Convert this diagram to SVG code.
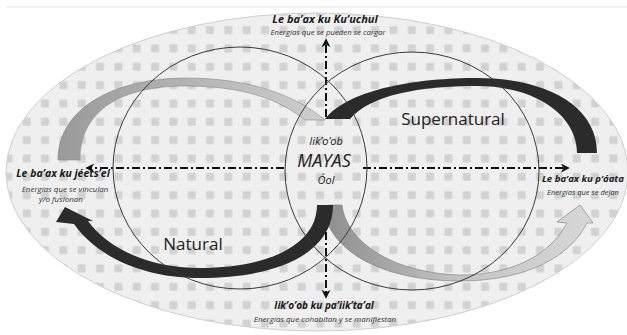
<svg xmlns="http://www.w3.org/2000/svg" width="627" height="335" viewBox="0 0 627 335">
  <defs>
    <pattern id="grid" x="17.5" y="2.5" width="18.333" height="18.333" patternUnits="userSpaceOnUse">
      <rect width="18.333" height="18.333" fill="#efefef"/>
      <rect x="5.2" y="5.2" width="8" height="8" rx="1.2" fill="#d2d2d2"/>
    </pattern>
    <filter id="soft" x="-5%" y="-5%" width="110%" height="110%">
      <feGaussianBlur stdDeviation="0.6"/>
    </filter>
    <linearGradient id="gLeft" gradientUnits="userSpaceOnUse" x1="60" y1="0" x2="325" y2="0">
      <stop offset="0" stop-color="#9a9a9a"/>
      <stop offset="1" stop-color="#cfcfcf"/>
    </linearGradient>
    <linearGradient id="gRight" gradientUnits="userSpaceOnUse" x1="325" y1="0" x2="595" y2="0">
      <stop offset="0" stop-color="#8e8e8e"/>
      <stop offset="0.5" stop-color="#c4c4c4"/>
      <stop offset="1" stop-color="#d8d8d8"/>
    </linearGradient>
    <marker id="ah" viewBox="0 0 10 10" refX="8" refY="5" markerWidth="4.5" markerHeight="4.5" orient="auto-start-reverse" markerUnits="strokeWidth">
      <path d="M0,0 L10,5 L0,10 L3,5 Z" fill="#111"/>
    </marker>
    <style>
      .circ { fill: none; stroke: #3a3a3a; stroke-width: 1; }
      .axis { fill: none; stroke: #111; stroke-width: 2; stroke-dasharray: 8 3 2 3; }
      .lbl { font-family: "Open Sans", "Noto Sans", sans-serif; font-style: italic; font-weight: bold; fill: #1a1a1a; text-anchor: middle; }
      .lbl.end { text-anchor: end; }
      .sub { font-family: "Open Sans", "Noto Sans", sans-serif; font-style: italic; fill: #333; text-anchor: middle; }
      .big { font-family: "Open Sans", "Noto Sans", sans-serif; fill: #222; text-anchor: middle; }
      .mid { font-family: "Open Sans", "Noto Sans", sans-serif; font-style: italic; fill: #222; text-anchor: middle; }
    </style>
  </defs>

  <rect width="627" height="335" fill="#ffffff"/>
  <line x1="6" y1="7" x2="627" y2="7" stroke="#e2e2e2" stroke-width="1"/>

  <g id="background">
    <ellipse cx="317" cy="172" rx="311" ry="159" fill="url(#grid)" filter="url(#soft)"/>
    <ellipse cx="317" cy="172" rx="311" ry="159" fill="none" stroke="#cfcfcf" stroke-width="1"/>
  </g>

  <g id="connectors">
    <!-- left top arc (light) -->
    <path d="M58,160 C58,105 120,78 185,78 C250,78 295,95 325,120 L305,120 C280,100 245,86 185,86 C125,86 80,108 80,160 Z" fill="url(#gLeft)" stroke="#8a8a8a" stroke-width="0.6"/>
    <!-- right top arc (dark) -->
    <path d="M325,119 C350,88 420,78 477,78 C545,78 597,105 597,153 L577,153 C577,115 535,86 477,86 C420,86 370,95 350,119 Z" fill="#2b2b2b"/>
    <!-- bottom right arrow (light) -->
    <path d="M328,205 L342,205 C346,240 390,273 460,275 C512,275 550,255 567,223 L557,222 L580,205 L593,223 L587,223 C565,266 510,281 460,281 C388,281 333,255 324,212 Z" fill="url(#gRight)" stroke="#7a7a7a" stroke-width="0.6"/>
    <!-- bottom left arrow (dark) -->
    <path d="M333,205 C333,252 280,278 200,278 C140,278 96,255 74,224 L56,222 L65,207 L93,221 L88,221 C106,246 145,268 200,268 C268,268 317,245 317,205 Z" fill="#2b2b2b"/>
    <!-- axes -->
    <line class="axis" x1="326" y1="117" x2="326" y2="40" marker-end="url(#ah)"/>
    <line class="axis" x1="326" y1="232" x2="326" y2="297" marker-end="url(#ah)"/>
    <line class="axis" x1="284" y1="168" x2="87" y2="168" marker-end="url(#ah)"/>
    <line class="axis" x1="363" y1="168" x2="568" y2="168" marker-end="url(#ah)"/>
  </g>

  <g id="natural">
    <ellipse class="circ" cx="240" cy="168" rx="127" ry="121"/>
    <text class="big" x="193" y="250" font-size="17">Natural</text>
  </g>

  <g id="supernatural">
    <ellipse class="circ" cx="412" cy="171" rx="127" ry="119"/>
    <text class="big" x="453" y="125" font-size="17">Supernatural</text>
  </g>

  <g id="center">
    <text class="mid" x="326" y="145" font-size="11">Iik’o’ob</text>
    <text class="mid" x="324" y="167" font-size="18">MAYAS</text>
    <text class="mid" x="326" y="184" font-size="11">Óol</text>
  </g>

  <g id="top-label">
    <text class="lbl" x="325" y="23" font-size="11">Le ba’ax ku Ku’uchul</text>
    <text class="sub" x="328" y="35" font-size="7.8">Energías que se pueden se cargar</text>
  </g>

  <g id="left-label">
    <text class="lbl" x="63" y="177" font-size="10.5">Le ba’ax ku jéets’el</text>
    <text class="sub" x="65" y="192" font-size="8">Energías que se vinculan</text>
    <text class="sub" x="61" y="202" font-size="8">y/o fusionan</text>
  </g>

  <g id="right-label">
    <text class="lbl end" x="624" y="182" font-size="9.6">Le ba’ax ku p’áata</text>
    <text class="sub" x="583" y="195" font-size="7.5">Energías que se dejan</text>
  </g>

  <g id="bottom-label">
    <text class="lbl" x="324" y="309" font-size="10">Iik’o’ob ku pa’iik’ta’al</text>
    <text class="sub" x="325" y="322" font-size="8">Energías que cohabitan y se manifiestan</text>
  </g>
</svg>
